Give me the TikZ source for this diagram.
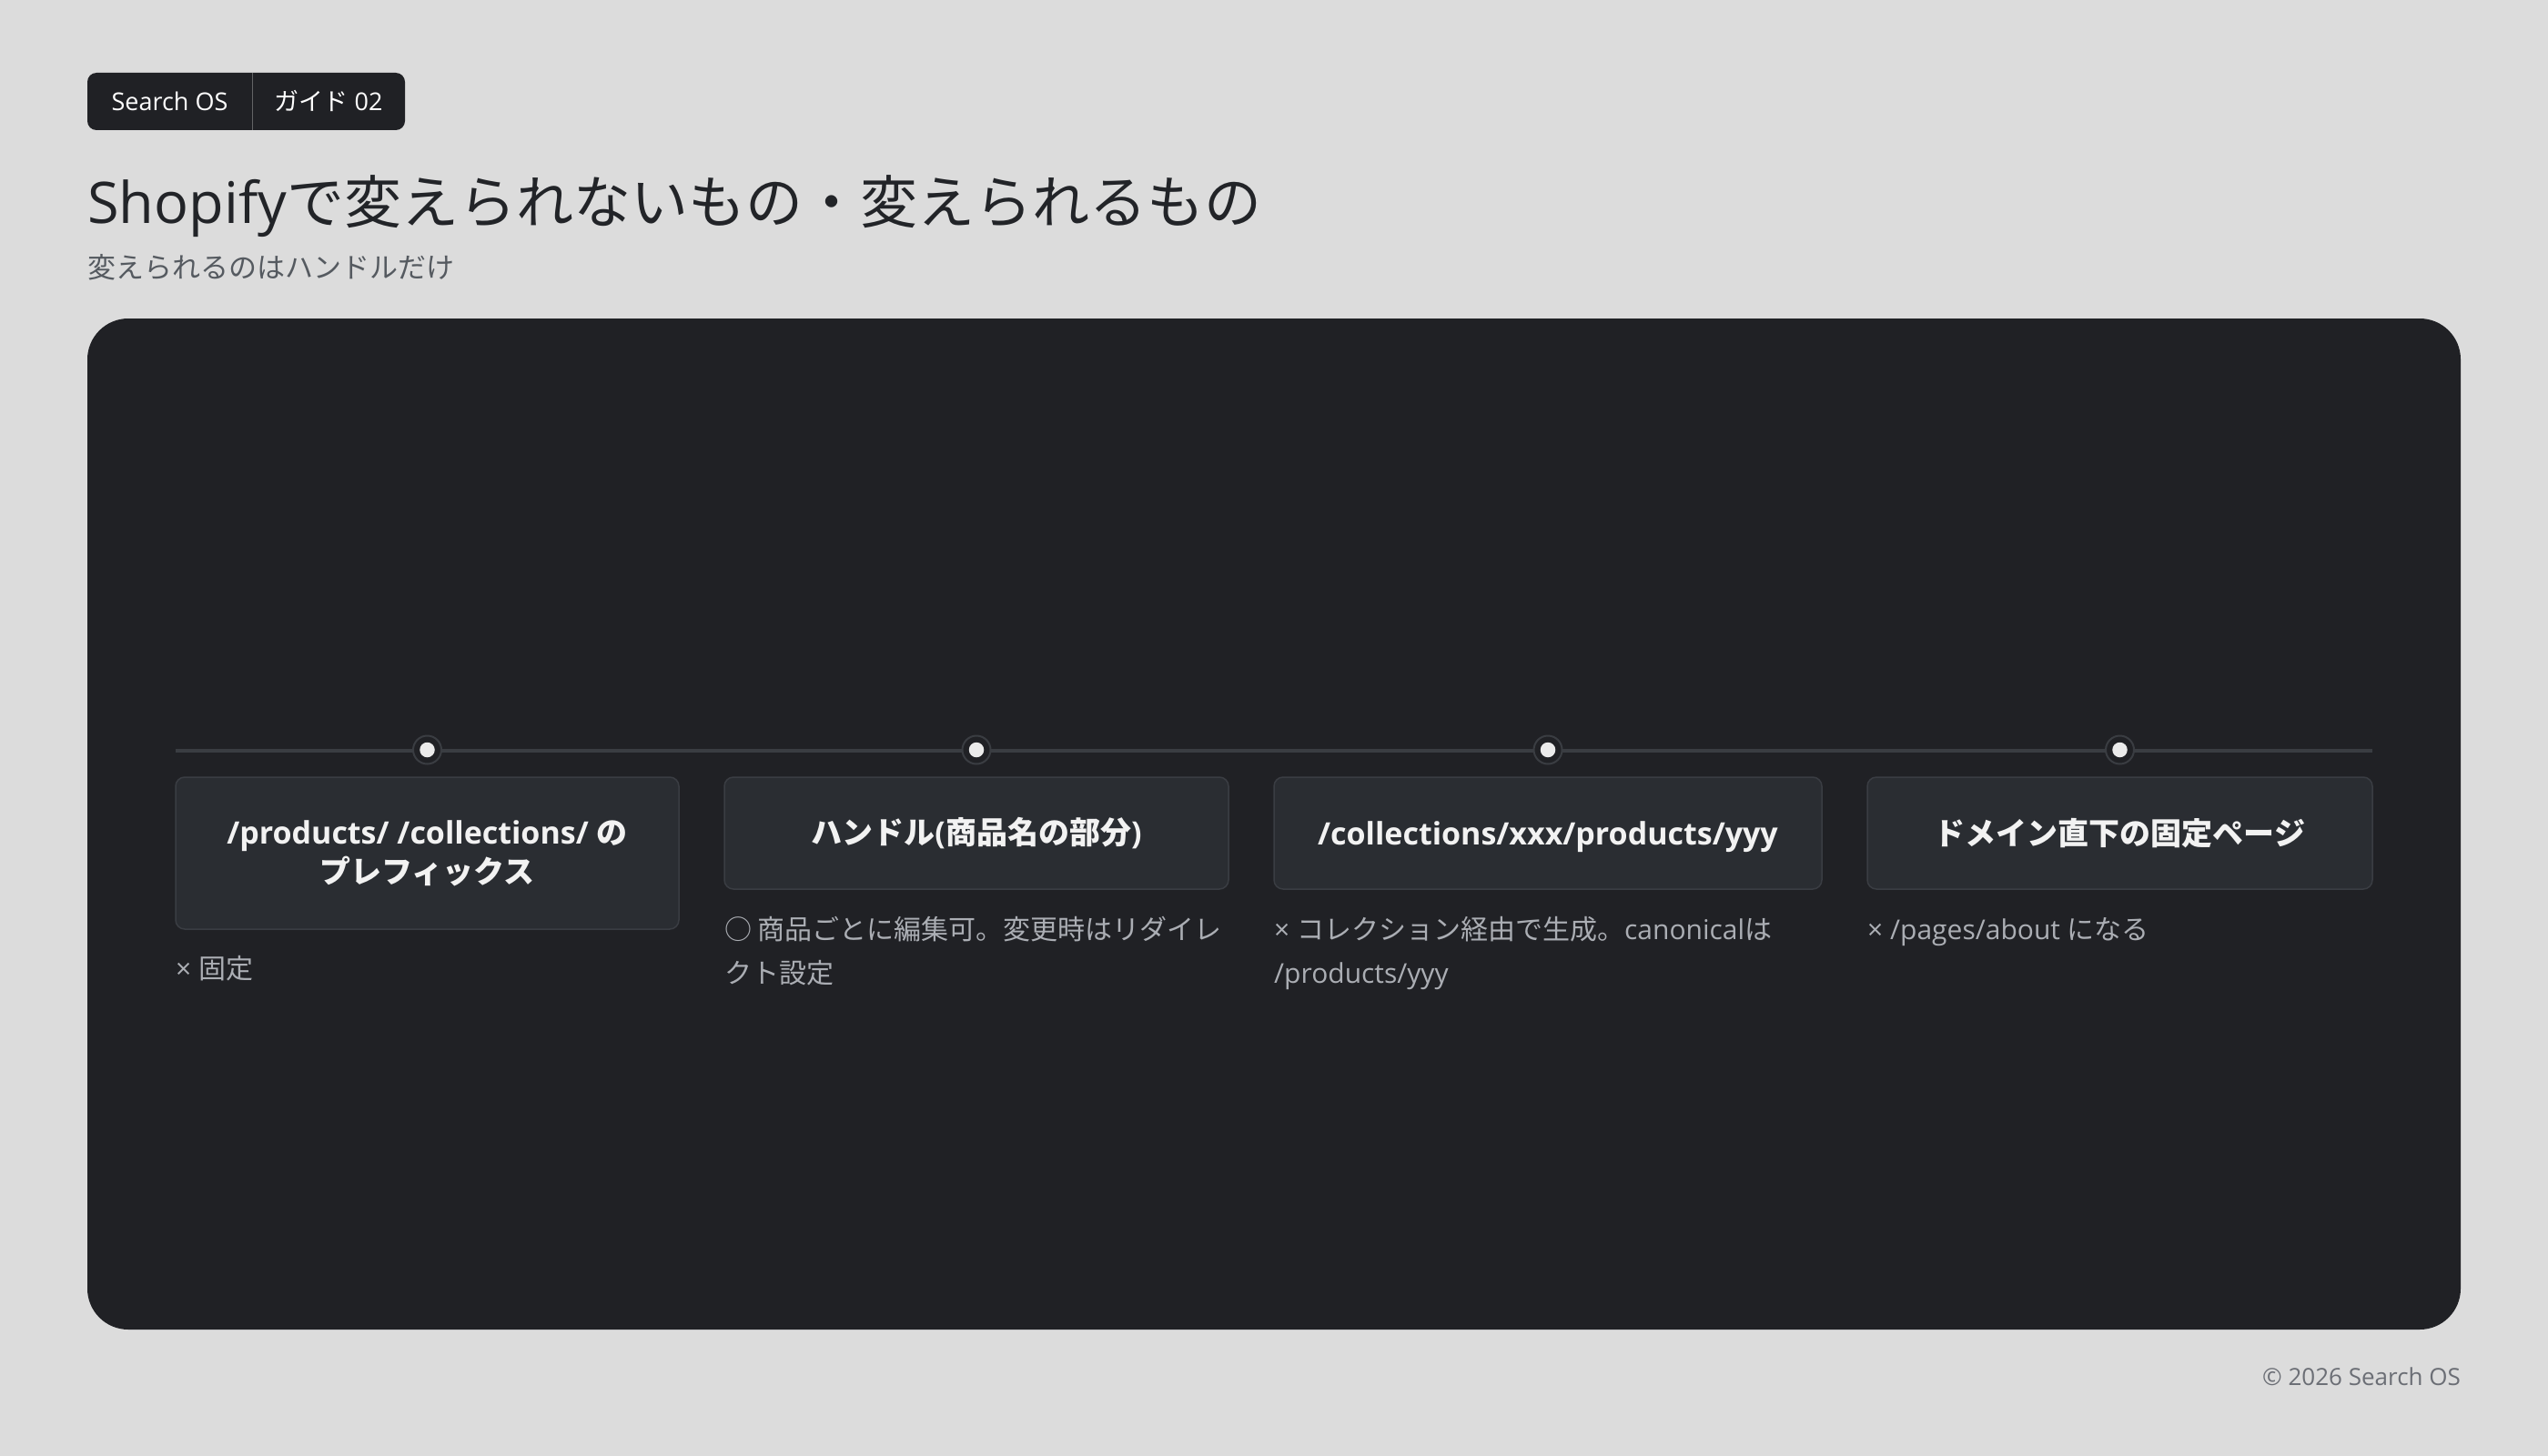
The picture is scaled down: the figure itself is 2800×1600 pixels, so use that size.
\documentclass[tikz,border=0pt]{standalone}
\usepackage{fontspec}
\setmainfont{Open Sans}
\newfontfamily\jpf{Noto Sans CJK JP}
\newcommand\jp[1]{{\jpf #1}}
\definecolor{pagebg}{HTML}{DCDCDC}
\definecolor{panel}{HTML}{202125}
\definecolor{boxfill}{HTML}{2A2D32}
\definecolor{boxline}{HTML}{3A3D43}
\definecolor{tline}{HTML}{3A3D42}
\definecolor{titlec}{HTML}{222428}
\definecolor{subc}{HTML}{555A60}
\definecolor{notec}{HTML}{ABAEB4}
\definecolor{footc}{HTML}{6B6E75}
\definecolor{boxtext}{HTML}{F2F2F2}
\tikzset{
  stepbox/.style={draw=boxline, line width=1.5pt, fill=boxfill, rounded corners=10pt,
    inner sep=0pt, align=center, text=boxtext,
    font=\bfseries\fontsize{34}{43}\selectfont},
  note/.style={anchor=base west, inner sep=0pt, text=notec, font=\fontsize{30}{48}\selectfont},
  dotouter/.style={circle, draw=tline, line width=2pt, fill=panel, minimum size=31pt, inner sep=0pt},
  dotinner/.style={circle, fill=white!92!black, minimum size=16.5pt, inner sep=0pt},
}
\begin{document}
\begin{tikzpicture}[x=1pt,y=-1pt]
\fill[pagebg] (0,0) rectangle (2800,1600);
\useasboundingbox (0,0) rectangle (2800,1600);
% badge
\fill[panel, rounded corners=10pt] (96,80) rectangle (445,143);
\draw[line width=1pt, color=white!30!panel] (277,80) -- (277,143);
\node[anchor=base, inner sep=0pt, text=white, font=\fontsize{27}{32}\selectfont] (badge1) at (186.5,122) {Search OS};
\node[anchor=base, inner sep=0pt, text=white, font=\fontsize{27}{32}\selectfont] (badge2) at (361,122) {\jp{ガイド} 02};
% title
\node[anchor=base west, inner sep=0pt, text=titlec, font=\fontsize{63}{75}\selectfont] (title) at (96,245) {Shopify\jp{で変えられないもの・変えられるもの}};
\node[anchor=base west, inner sep=0pt, text=subc, font=\fontsize{31}{38}\selectfont] (subtitle) at (96,305) {\jp{変えられるのはハンドルだけ}};
% panel
\fill[panel, rounded corners=45pt] (96,350) rectangle (2704,1461);
% timeline
\coordinate (tlstart) at (193,825);
\coordinate (tlend) at (2607,825);
\draw[tline, line width=3.5pt] (tlstart) -- (tlend);
\foreach \i/\x in {1/469.5,2/1073,3/1701,4/2329.5}{
  \node[dotouter] (dot\i) at (\x,824) {};
  \node[dotinner] at (dot\i) {};
}
% boxes
\node[stepbox, minimum width=553pt, minimum height=167pt] (box1) at (469.5,937.5) {/products/ /collections/ \jp{の}\\\jp{プレフィックス}};
\node[stepbox, minimum width=554pt, minimum height=123pt] (box2) at (1073,915.5) {\jp{ハンドル}(\jp{商品名の部分})};
\node[stepbox, minimum width=602pt, minimum height=123pt] (box3) at (1701,915.5) {\raisebox{-4pt}[\height][\depth]{/collections/xxx/products/yyy}};
\node[stepbox, minimum width=555pt, minimum height=123pt] (box4) at (2329.5,915.5) {\jp{ドメイン直下の固定ページ}};
% notes
\node[note] (note1) at (193,1075) {× \jp{固定}};
\node[note] (note2a) at (796,1032) {\jp{○ 商品ごとに編集可。変更時はリダイレ}};
\node[note] (note2b) at (796,1080) {\jp{クト設定}};
\node[note] (note3a) at (1400,1032) {× \jp{コレクション経由で生成。}canonical\jp{は}};
\node[note] (note3b) at (1400,1080) {/products/yyy};
\node[note] (note4) at (2052,1032) {× /pages/about \jp{になる}};
% footer
\node[anchor=base east, inner sep=0pt, text=footc, font=\fontsize{26}{30}\selectfont] (footer) at (2704,1522) {© 2026 Search OS};
\end{tikzpicture}
\end{document}
